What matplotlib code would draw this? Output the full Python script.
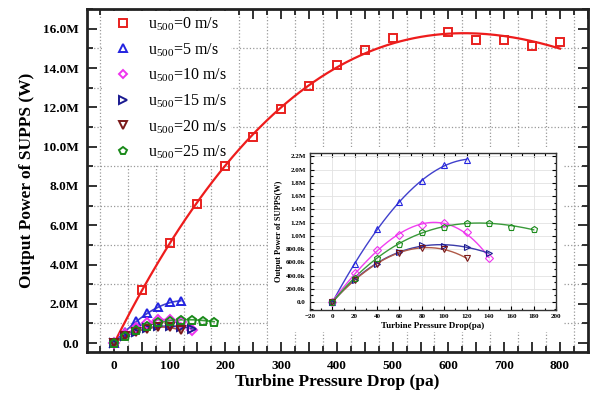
import numpy as np
import matplotlib.pyplot as plt
from matplotlib.ticker import MultipleLocator, FuncFormatter
from matplotlib.patches import Rectangle

plt.rcParams['font.family'] = ['Liberation Serif', 'DejaVu Serif']
plt.rcParams['mathtext.fontset'] = 'custom'
plt.rcParams['mathtext.rm'] = 'Liberation Serif'

# Turbine pressure drop [pa] and output power [W] for each wind speed
dp_0 = [0, 50, 100, 150, 200, 250, 300, 350, 400, 450, 500, 600, 650, 700, 750, 800]
p_0 = [0, 2.7e6, 5.1e6, 7.1e6, 9.0e6, 10.5e6, 11.9e6, 13.1e6, 14.15e6, 14.9e6,
       15.55e6, 15.85e6, 15.45e6, 15.45e6, 15.13e6, 15.33e6]

dp_5 = [0, 20, 40, 60, 80, 100, 120]
p_5 = [0, 0.57e6, 1.11e6, 1.51e6, 1.82e6, 2.07e6, 2.15e6]

dp_10 = [0, 20, 40, 60, 80, 100, 120, 140]
p_10 = [0, 0.44e6, 0.79e6, 1.01e6, 1.16e6, 1.19e6, 1.06e6, 0.66e6]

dp_15 = [0, 20, 40, 60, 80, 100, 120, 140]
p_15 = [0, 0.34e6, 0.58e6, 0.76e6, 0.86e6, 0.85e6, 0.83e6, 0.74e6]

dp_20 = [0, 20, 40, 60, 80, 100, 120]
p_20 = [0, 0.34e6, 0.58e6, 0.74e6, 0.82e6, 0.80e6, 0.66e6]

dp_25 = [0, 20, 40, 60, 80, 100, 120, 140, 160, 180]
p_25 = [0, 0.36e6, 0.67e6, 0.87e6, 1.06e6, 1.14e6, 1.19e6, 1.19e6, 1.14e6, 1.10e6]

labels = ['0', '5', '10', '15', '20', '25']

# (x, y, marker, marker colour, fit line colour)
series = [
    (dp_0, p_0, 's', '#e8201e', '#ee1c1c'),
    (dp_5, p_5, '^', '#2424e0', '#4040cc'),
    (dp_10, p_10, 'D', '#ee33ee', '#f040f0'),
    (dp_15, p_15, '>', '#1a1a90', '#3a3aa8'),
    (dp_20, p_20, 'v', '#7a1818', '#b05a48'),
    (dp_25, p_25, 'p', '#1a8a1a', '#3a9a3a'),
]


def fit_line(x, y, deg=3):
    # Polynomial trend through the measured points
    c = np.polyfit(x, y, deg)
    xx = np.linspace(min(x), max(x), 200)
    return xx, np.polyval(c, xx)


def fmt_main(v, pos):
    if abs(v) < 1:
        return '0.0'
    return f'{v/1e6:.1f}M'


def fmt_x100(v, pos):
    if int(round(v)) % 100 == 0:
        return f'{int(round(v))}'
    return ''


def fmt_inset(v, pos):
    if abs(v) < 1:
        return '0.0'
    if v < 1e6 - 1:
        return f'{v/1e3:.1f}k'
    return f'{v/1e6:.1f}M'


fig = plt.figure(figsize=(5.92, 3.97), dpi=100)
ax = fig.add_axes([0.147, 0.1134, 0.846, 0.8636])

for (x, y, mk, mc, lc), lab in zip(series, labels):
    xx, yy = fit_line(x, y)
    ax.plot(xx, yy, color=lc, lw=1.6 if mk == 's' else 1.2, zorder=2)
    ms = 6.2 if mk == 's' else 5.6
    if mk == 'p':
        ms = 6.4
    if mk == 'D':
        ms = 4.8
    ax.plot(x, y, linestyle='none', marker=mk, ms=ms, mfc='none', mec=mc,
            mew=1.4, zorder=3,
            label=r'u$_{500}$=' + lab + ' m/s')

ax.set_xlim(-48, 850)
ax.set_ylim(-0.45e6, 17.0e6)
ax.xaxis.set_major_locator(MultipleLocator(50))
ax.xaxis.set_minor_locator(MultipleLocator(25))
ax.xaxis.set_major_formatter(FuncFormatter(fmt_x100))
ax.yaxis.set_major_locator(MultipleLocator(2e6))
ax.yaxis.set_minor_locator(MultipleLocator(1e6))
ax.yaxis.set_major_formatter(FuncFormatter(fmt_main))
ax.tick_params(which='both', direction='in', top=True, right=True, width=1.3,
               color='#222222')
ax.tick_params(which='major', length=7, labelsize=9.5, pad=6)
ax.tick_params(which='minor', length=4)
for lbl in ax.get_xticklabels() + ax.get_yticklabels():
    lbl.set_fontweight('bold')
for sp in ax.spines.values():
    sp.set_linewidth(2)
    sp.set_color('#222222')

ax.set_axisbelow(True)
ax.grid(which='minor', linestyle=':', color='#999999', lw=0.9)
ax.set_xlabel('Turbine Pressure Drop (pa)', fontsize=12.5, fontweight='bold',
              labelpad=1)
ax.set_ylabel('Output Power of SUPPS (W)', fontsize=12.5, fontweight='bold',
              labelpad=6)

leg = ax.legend(loc='upper left', bbox_to_anchor=(0.022, 1.008), frameon=True,
                fontsize=11.5, handletextpad=0.6, labelspacing=0.5,
                borderaxespad=0.3, borderpad=0.25, handlelength=2.0,
                markerscale=0.95)
leg.get_frame().set_edgecolor('none')
leg.get_frame().set_facecolor('white')
leg.get_frame().set_alpha(1)
# keep the legend over the grid but under the data
leg.set_zorder(1.5)

# White backing behind the inset and its labels
ax.add_patch(Rectangle((0.4527, 0.1637), 0.5, 0.466, transform=fig.transFigure,
                       facecolor='white', edgecolor='none', zorder=1))

# Inset with the low-power cases
ins = fig.add_axes([0.5236, 0.219, 0.4155, 0.3956])
for (x, y, mk, mc, lc) in series[1:]:
    xx, yy = fit_line(x, y)
    ins.plot(xx, yy, color=lc, lw=1.0, zorder=2)
    ins.plot(x, y, linestyle='none', marker=mk, ms=4.5, mfc='none', mec=mc,
             mew=0.8, zorder=3)
ins.set_xlim(-20, 200)
ins.set_ylim(-0.12e6, 2.25e6)
ins.xaxis.set_major_locator(MultipleLocator(20))
ins.xaxis.set_minor_locator(MultipleLocator(10))
ins.yaxis.set_major_locator(MultipleLocator(0.2e6))
ins.yaxis.set_minor_locator(MultipleLocator(0.1e6))
ins.yaxis.set_major_formatter(FuncFormatter(fmt_inset))
ins.tick_params(which='both', direction='in', top=True, right=True, width=0.8,
                labelsize=5, pad=3)
ins.tick_params(which='major', length=3)
ins.tick_params(which='minor', length=1.8)
for lbl in ins.get_xticklabels() + ins.get_yticklabels():
    lbl.set_fontweight('bold')
for sp in ins.spines.values():
    sp.set_linewidth(1.0)
    sp.set_color('#333333')
ins.set_axisbelow(True)
ins.grid(which='major', color='#e2e2e2', lw=0.6)
ins.set_xlabel('Turbine Pressure Drop(pa)', fontsize=6.5, fontweight='bold',
               labelpad=2)
ins.set_ylabel('Output Power of SUPPS(W)', fontsize=6, fontweight='bold',
               labelpad=2)

fig.savefig('out.png', dpi=100)
